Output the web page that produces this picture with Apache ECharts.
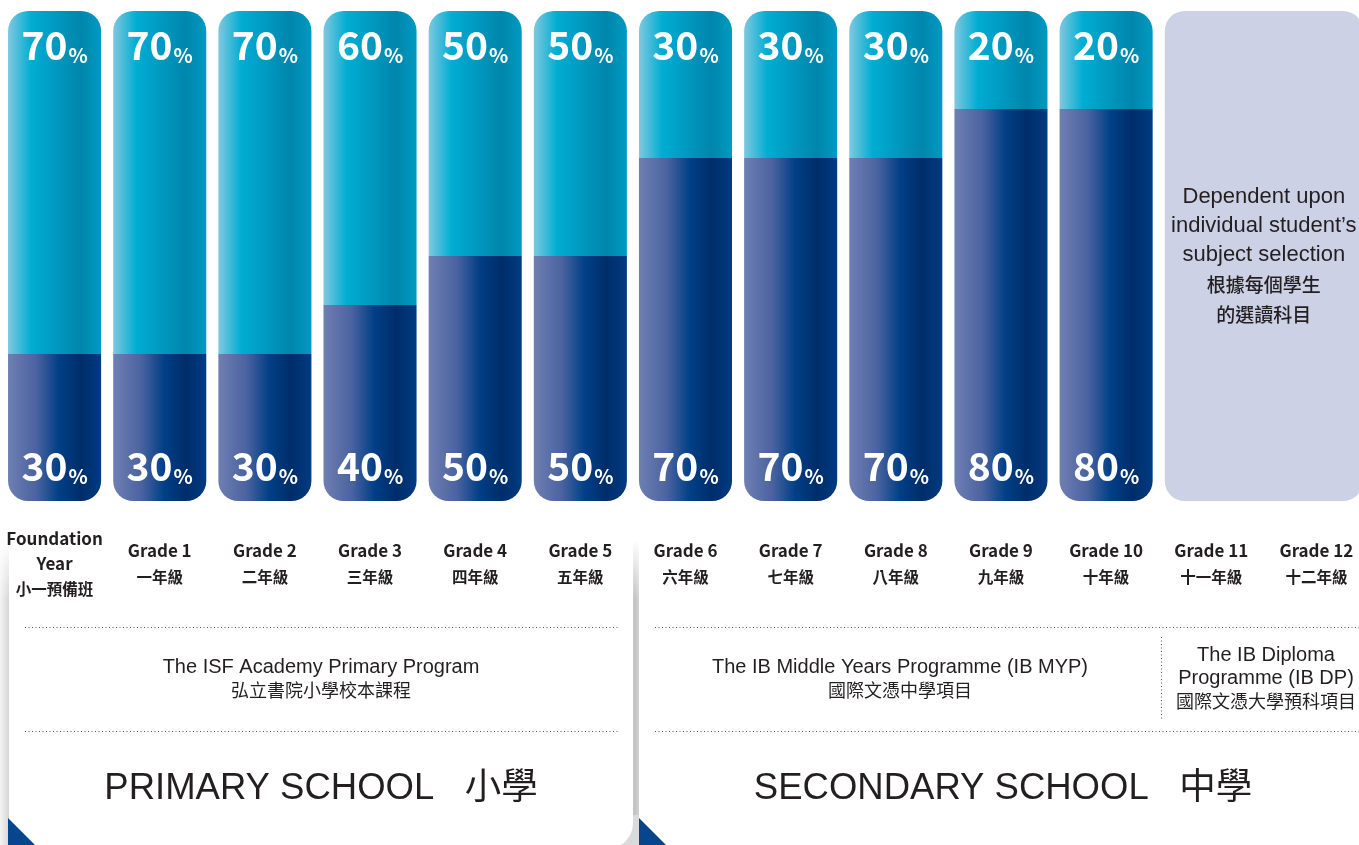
<!DOCTYPE html>
<html>
<head>
<meta charset="utf-8">
<script src="https://cdn.jsdelivr.net/npm/echarts@6/dist/echarts.min.js"></script>
<style>
html,body{margin:0;padding:0;background:#fff;}
#chart{width:1359px;height:845px;}
</style>
</head>
<body>
<div id="chart"></div>
<script>
// ---- data ----
const gradesEn = ['Foundation\nYear','Grade 1','Grade 2','Grade 3','Grade 4','Grade 5','Grade 6','Grade 7','Grade 8','Grade 9','Grade 10','Grade 11','Grade 12'];
const gradesZh = ['小一預備班','一年級','二年級','三年級','四年級','五年級','六年級','七年級','八年級','九年級','十年級','十一年級','十二年級'];
const lowerShare = [30,30,30,40,50,50,70,70,70,80,80,null,null];
const upperShare = [70,70,70,60,50,50,30,30,30,20,20,null,null];
const electiveFrom = 'Grade 11';
const electiveTo = 'Grade 12';
const electiveTextEn = ['Dependent upon','individual student\u2019s','subject selection'];
const electiveTextZh = ['根據每個學生','的選讀科目'];
const primaryProgram = ['The ISF Academy Primary Program','弘立書院小學校本課程'];
const mypProgram = ['The IB Middle Years Programme (IB MYP)','國際文憑中學項目'];
const dpProgram = ['The IB Diploma','Programme (IB DP)','國際文憑大學預科項目'];
const primaryTitle = 'PRIMARY SCHOOL   小學';
const secondaryTitle = 'SECONDARY SCHOOL   中學';

// ---- styling ----
const NARROW = "'Noto Sans CJK TC','Noto Sans CJK SC',sans-serif";
const SANS = "'Liberation Sans','Noto Sans CJK TC',sans-serif";
const CJK = "'Noto Sans CJK TC','Noto Sans CJK SC',sans-serif";
const INK = '#231f20';
const BAR_FRAC = 0.885;

const upperGrad = new echarts.graphic.LinearGradient(0,0,1,0,[
  {offset:0,color:'#80c8df'},{offset:0.25,color:'#00add2'},{offset:0.55,color:'#0096bd'},
  {offset:0.78,color:'#0086ac'},{offset:1,color:'#009ac1'}]);
const lowerGrad = new echarts.graphic.LinearGradient(0,0,1,0,[
  {offset:0,color:'#6f7fb2'},{offset:0.3,color:'#4b63a0'},{offset:0.55,color:'#003f86'},
  {offset:0.78,color:'#002d6a'},{offset:1,color:'#003b81'}]);

const pctRich = {
  n:{fontFamily:NARROW,fontWeight:'bold',fontSize:39,lineHeight:44,color:'#fff',verticalAlign:'bottom'},
  p:{fontFamily:NARROW,fontWeight:'bold',fontSize:20,lineHeight:31,color:'#fff',verticalAlign:'bottom',padding:[0,0,0,1]}
};
const pctFmt = p => (p.value == null ? '' : '{n|' + p.value + '}{p|%}');

const catIdx = gradesEn.map((_, i) => i);
const chart = echarts.init(document.getElementById('chart'), null, {renderer:'canvas'});

function dotted(x1,y1,x2,y2){
  return {type:'line',z:-5,shape:{x1,y1,x2,y2},style:{stroke:'#555',lineWidth:1,lineDash:[1,2.5]},silent:true};
}
function txt(x,y,text,size,family,weight){
  return {type:'text',z:-4,x,y,style:{text,fontSize:size,fontFamily:family,fontWeight:weight||'normal',fill:INK,align:'center',verticalAlign:'middle'},silent:true};
}
function fade(x,y,w,h){
  return {type:'rect',z:-7,shape:{x,y,width:w,height:h},style:{fill:new echarts.graphic.LinearGradient(0,0,0,1,[{offset:0,color:'rgba(255,255,255,1)'},{offset:1,color:'rgba(255,255,255,0)'}])},silent:true};
}

const graphics = [
  {type:'rect',z:-9,shape:{x:0,y:540,width:9,height:305},style:{fill:new echarts.graphic.LinearGradient(0,0,1,0,[{offset:0,color:'#f4f4f4'},{offset:1,color:'#d6d6d6'}])},silent:true},
  {type:'rect',z:-9,shape:{x:630,y:540,width:10,height:305},style:{fill:new echarts.graphic.LinearGradient(0,0,1,0,[{offset:0,color:'#d2d2d2'},{offset:0.5,color:'#c2c2c2'},{offset:1,color:'#d8d8d8'}])},silent:true},
  {type:'rect',z:-9,shape:{x:606,y:815,width:34,height:30},style:{fill:'#dadada'},silent:true},
  fade(0,540,9,60), fade(630,540,10,60),
  {type:'rect',z:-6,shape:{x:9,y:504,width:624,height:345,r:[0,0,26,0]},style:{fill:'#fff'},silent:true},
  {type:'rect',z:-6,shape:{x:639,y:504,width:740,height:345},style:{fill:'#fff'},silent:true},
  {type:'polygon',z:-5,shape:{points:[[8,818],[8,846],[36,846]]},style:{fill:'#07468c'},silent:true},
  {type:'polygon',z:-5,shape:{points:[[639,818],[639,846],[667,846]]},style:{fill:'#07468c'},silent:true},
  dotted(25,627.5,620,627.5), dotted(25,731.5,620,731.5),
  dotted(655,627.5,1359,627.5), dotted(655,731.5,1359,731.5),
  dotted(1161.5,637,1161.5,721),
  txt(321,667,primaryProgram[0],20,SANS), txt(321,690,primaryProgram[1],18,CJK),
  txt(900,667,mypProgram[0],20,SANS), txt(900,690,mypProgram[1],18,CJK),
  txt(1266,655,dpProgram[0],20,SANS), txt(1266,678,dpProgram[1],20,SANS), txt(1266,701,dpProgram[2],18,CJK),
  txt(321,789,primaryTitle,36.5,SANS), txt(1003,789,secondaryTitle,36.5,SANS)
];

chart.setOption({
  animation:false,
  backgroundColor:'#fff',
  grid:{left:2,top:11,width:1367,height:490,containLabel:false,outerBoundsMode:'none'},
  xAxis:{
    type:'category',data:catIdx,
    axisLine:{show:false},axisTick:{show:false},splitLine:{show:false},
    axisLabel:{
      interval:0,margin:63.5,verticalAlign:'middle',align:'center',hideOverlap:false,
      formatter:(v,i)=>'{en|'+gradesEn[i]+'}\n{zh|'+gradesZh[i]+'}',
      rich:{
        en:{fontFamily:NARROW,fontWeight:'bold',fontSize:17,lineHeight:25,color:INK,align:'center'},
        zh:{fontFamily:CJK,fontWeight:'bold',fontSize:15.5,lineHeight:27,color:INK,align:'center'}
      }
    }
  },
  yAxis:{type:'value',min:0,max:100,show:false,splitLine:{show:false}},
  graphic:graphics,
  series:[
    {type:'bar',name:'lower',stack:'s',data:lowerShare,barWidth:(BAR_FRAC*100)+'%',
     itemStyle:{color:lowerGrad,borderRadius:[0,0,20,20]},
     label:{show:true,position:'insideBottom',distance:15,formatter:pctFmt,rich:pctRich}},
    {type:'bar',name:'upper',stack:'s',data:upperShare,barWidth:(BAR_FRAC*100)+'%',
     itemStyle:{color:upperGrad,borderRadius:[20,20,0,0]},
     label:{show:true,position:'insideTop',distance:10,formatter:pctFmt,rich:pctRich}},
    {type:'custom',name:'elective',clip:false,
     data:[[gradesEn.indexOf(electiveFrom),gradesEn.indexOf(electiveTo),0,100]],
     encode:{x:[0,1],y:[2,3]},
     renderItem:(params,api)=>{
       const a = api.coord([api.value(0),api.value(3)]);
       const b = api.coord([api.value(1),api.value(2)]);
       const bw = api.size([1,0])[0]*BAR_FRAC;
       const text = electiveTextEn.map(t=>'{en|'+t+'}').join('\n')+'\n'+electiveTextZh.map(t=>'{zh|'+t+'}').join('\n');
       return {
         type:'rect',
         shape:{x:a[0]-bw/2,y:a[1],width:b[0]-a[0]+bw,height:b[1]-a[1],r:20},
         style:{fill:'#cdd1e6'},
         textContent:{style:{text,align:'center',verticalAlign:'middle',fill:INK,
           rich:{en:{fontFamily:SANS,fontSize:22,lineHeight:29,color:INK},
                 zh:{fontFamily:CJK,fontSize:19,fontWeight:500,lineHeight:30,color:INK}}}},
         textConfig:{position:'inside'}
       };
     }}
  ]
});
</script>
</body>
</html>
